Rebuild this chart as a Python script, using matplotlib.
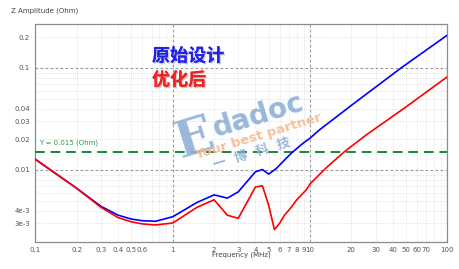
import matplotlib
matplotlib.use("Agg")
import matplotlib.pyplot as plt
import matplotlib.patheffects as pe
from matplotlib.ticker import FixedLocator, NullLocator

# ---- data ----
freq_orig = [0.1, 0.2, 0.3, 0.4, 0.5, 0.6, 0.75, 1.0, 1.5, 2.0, 2.5, 3.0, 4.0, 4.5, 5.0,
             5.7, 7.3, 8.9, 10, 11.7, 20, 46, 100]
z_orig = [0.0127, 0.0066, 0.0044, 0.0036, 0.0033, 0.00318, 0.00314, 0.00348, 0.0048, 0.0057,
          0.0053, 0.0061, 0.0096, 0.0101, 0.0091, 0.0104, 0.0146, 0.0183, 0.0205, 0.0247,
          0.043, 0.1, 0.21]

freq_opt = [0.1, 0.2, 0.3, 0.4, 0.5, 0.6, 0.75, 1.0, 1.5, 2.0, 2.5, 3.0, 4.0, 4.5, 5.0,
            5.5, 6.0, 6.5, 7.3, 8.0, 9.4, 10, 13.1, 17.8, 25.6, 50, 100]
z_opt = [0.0127, 0.0066, 0.0043, 0.00341, 0.0031, 0.00296, 0.00289, 0.00302, 0.0043, 0.0051,
         0.0036, 0.00336, 0.0068, 0.0070, 0.0045, 0.0026, 0.0030, 0.0036, 0.0043, 0.0051,
         0.0064, 0.0073, 0.0105, 0.0151, 0.022, 0.0415, 0.082]

limit_value = 0.015
limit_label = "Y = 0.015 (Ohm)"

x_ticks = [0.1, 0.2, 0.3, 0.4, 0.5, 0.6, 1, 2, 3, 4, 5, 6, 7, 8, 9, 10, 20, 30, 40, 50, 60, 70, 100]
x_tick_labels = ["0.1", "0.2", "0.3", "0.4", "0.5", "0.6", "1", "2", "3", "4", "5", "6", "7",
                 "8", "9", "10", "20", "30", "40", "50", "60", "70", "100"]
y_ticks = [0.003, 0.004, 0.01, 0.02, 0.03, 0.04, 0.1, 0.2]
y_tick_labels = ["3e-3", "4e-3", "0.01", "0.02", "0.03", "0.04", "0.1", "0.2"]

legend_orig = "原始设计"
legend_opt = "优化后"

# ---- figure ----
W, H = 460, 269
fig = plt.figure(figsize=(W / 100, H / 100), dpi=100)
fig.patch.set_facecolor("white")
ax = fig.add_axes([35.5 / W, 1 - 241.7 / H, (447.3 - 35.5) / W, (241.7 - 24) / H])
ax.set_xscale("log")
ax.set_yscale("log")
ax.set_xlim(0.1, 100)
ax.set_ylim(0.00198, 0.27)

# grid
minor_x = [m * 10 ** e for e in (-1, 0, 1) for m in range(2, 10)]
minor_y = [m * 10 ** e for e in (-3, -2, -1) for m in range(2, 10) if 0.002 < m * 10 ** e < 0.27]
for v in minor_x:
    ax.axvline(v, color="#d9d9d9", lw=0.6, ls=(0, (1, 1.5)), zorder=0)
for v in minor_y:
    ax.axhline(v, color="#d9d9d9", lw=0.6, ls=(0, (1, 1.5)), zorder=0)
for v in (1, 10):
    ax.axvline(v, color="#9a9a9a", lw=0.8, ls=(0, (2.5, 2)), zorder=0)
for v in (0.01, 0.1):
    ax.axhline(v, color="#9a9a9a", lw=0.8, ls=(0, (2.5, 2)), zorder=0)

# watermark
wm_blue = "#8fb0d6"
wm_orange = "#f4bb8c"
fig.text(195 / W, 1 - 140 / H, "E", color=wm_blue, fontsize=36, fontweight="bold",
         family="DejaVu Serif", rotation=17, ha="center", va="center", alpha=0.9, zorder=1)
fig.text(258 / W, 1 - 116 / H, "dadoc", color=wm_blue, fontsize=20, fontweight="bold",
         family="DejaVu Sans", rotation=17, ha="center", va="center", alpha=0.9, zorder=1)
fig.text(258 / W, 1 - 137 / H, "Your best partner", color=wm_orange, fontsize=9.5,
         fontweight="bold", family="DejaVu Sans", rotation=17, ha="center", va="center",
         alpha=0.9, zorder=1)
fig.text(252 / W, 1 - 153 / H, "一   博   科   技", color=wm_blue, fontsize=9.5,
         fontweight="bold", family=["Noto Sans CJK SC", "DejaVu Sans"], rotation=17,
         ha="center", va="center", alpha=0.9, zorder=1)

# curves
ax.plot(freq_orig, z_orig, color="#0000ff", lw=1.2, zorder=5)
ax.plot(freq_opt, z_opt, color="#ff0000", lw=1.2, zorder=5)
ax.axhline(limit_value, color="#138a36", lw=1.4, ls=(0, (5, 3)), zorder=4)
ax.text(0.107, 0.0172, limit_label, color="#2e9a4a", fontsize=5, ha="left", va="bottom")

# ticks
ax.xaxis.set_major_locator(FixedLocator(x_ticks))
ax.xaxis.set_minor_locator(NullLocator())
ax.set_xticklabels(x_tick_labels)
ax.yaxis.set_major_locator(FixedLocator(y_ticks))
ax.yaxis.set_minor_locator(NullLocator())
ax.set_yticklabels(y_tick_labels)
ax.tick_params(axis="both", which="both", length=0, labelsize=5, labelcolor="#555555", pad=4)
for s in ax.spines.values():
    s.set_color("#8c8c8c")
    s.set_linewidth(0.9)

fig.text(11 / W, 1 - 11 / H, "Z Amplitude (Ohm)", fontsize=5, color="#444444", ha="left", va="center")
fig.text(241 / W, 1 - 255 / H, "Frequency (MHz)", fontsize=5, color="#444444", ha="center", va="center")

shadow = [pe.withSimplePatchShadow(offset=(1, -1), shadow_rgbFace="#aaaaaa", alpha=0.6), pe.Normal()]
fig.text(152 / W, 1 - 56 / H, legend_orig, color="#2222ee", fontsize=13, fontweight="bold",
         family=["Noto Sans CJK SC", "DejaVu Sans"], ha="left", va="center", path_effects=shadow)
fig.text(152 / W, 1 - 80 / H, legend_opt, color="#ee2222", fontsize=13, fontweight="bold",
         family=["Noto Sans CJK SC", "DejaVu Sans"], ha="left", va="center", path_effects=shadow)

fig.savefig("out.png", dpi=100)
